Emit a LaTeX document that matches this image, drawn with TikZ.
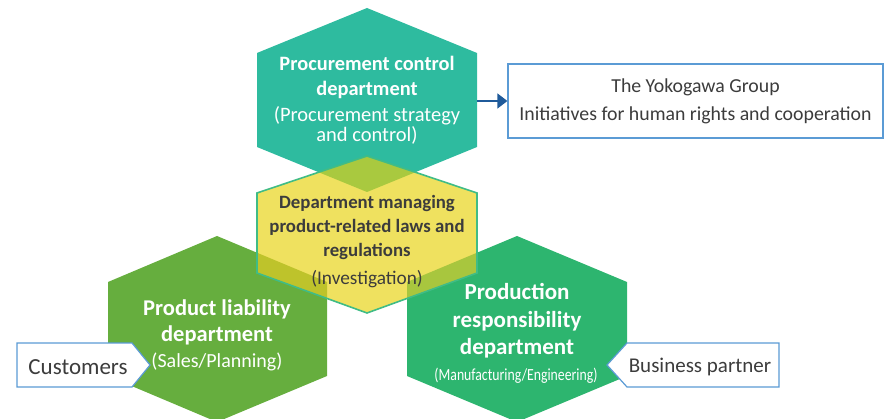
\documentclass[tikz,border=0pt]{standalone}
\usepackage{fontspec}
\setmainfont{Carlito}
\newfontfamily\condfont[FakeStretch=0.81]{Carlito}
\usetikzlibrary{arrows.meta}
\definecolor{tealhex}{HTML}{2EBB9F}
\definecolor{lgreen}{HTML}{66AE3E}
\definecolor{rgreen}{HTML}{2DB56F}
\definecolor{yhex}{HTML}{EFE15F}
\definecolor{yborder}{HTML}{40BC86}
\definecolor{limeov}{HTML}{A9C93F}
\definecolor{oliveov}{HTML}{BEC32B}
\definecolor{rov}{HTML}{A8C63E}
\definecolor{boxblue}{HTML}{5B9BD5}
\definecolor{arrblue}{HTML}{1F5A9A}
\definecolor{darktxt}{HTML}{3C3C3C}
\tikzset{
  wtitle/.style={align=center, text=white, font=\bfseries\fontsize{20.4}{25}\selectfont},
  wsub/.style={align=center, text=white, font=\fontsize{20.5}{20}\selectfont},
  labelbox/.style={draw=boxblue, line width=1.2pt, fill=white},
  boxtext/.style={text=darktxt, font=\fontsize{20.5}{27}\selectfont, align=center}
}
\begin{document}
\begin{tikzpicture}[x=1pt,y=-1pt]
\useasboundingbox (0,0) rectangle (890,419);
% hexagon shapes
\def\tophex{(367,8) -- (477,53) -- (477,147) -- (367,192) -- (257,147) -- (257,53) -- cycle}
\def\yelhex{(367,156) -- (477,193) -- (477,273) -- (367,313) -- (257,273) -- (257,193) -- cycle}
\def\lefthex{(217,236) -- (327,282) -- (327,376) -- (217,422) -- (108,376) -- (108,282) -- cycle}
\def\righthex{(517,236) -- (627,282) -- (627,376) -- (517,422) -- (407,376) -- (407,282) -- cycle}
\fill[tealhex] \tophex;
\fill[lgreen] \lefthex;
\fill[rgreen] \righthex;
\fill[yhex] \yelhex;
\begin{scope}
  \clip \yelhex;
  \fill[limeov] \tophex;
  \fill[oliveov] \lefthex;
  \fill[rov] \righthex;
\end{scope}
\draw[yborder, line width=1.6pt, line join=miter] \yelhex;
% side label boxes
\draw[labelbox] (17,343) -- (132,343) -- (150,365) -- (132,387) -- (17,387) -- cycle;
\draw[labelbox] (779,343) -- (627,343) -- (607,365) -- (627,387) -- (779,387) -- cycle;
% texts
\node[wtitle] (ptitle) at (367,77.5) {Procurement control\\department};
\node[wsub] (psub) at (367,125.5) {(Procurement strategy\\and control)};
\node[align=center, text=darktxt, font=\bfseries\fontsize{18.8}{24}\selectfont] (ytitle) at (367,227.5) {Department managing\\product-related laws and\\regulations};
\node[align=center, text=darktxt, font=\fontsize{19.3}{20}\selectfont] (ysub) at (367,279) {(Investigation)};
\node[wtitle, font=\bfseries\fontsize{22.5}{25.5}\selectfont] (ltitle) at (217,322.5) {Product liability\\department};
\node[wsub, font=\fontsize{20}{20}\selectfont] (lsub) at (217,362) {(Sales/Planning)};
\node[wtitle, font=\bfseries\fontsize{23}{27.5}\selectfont] (rtitle) at (517,321) {Production\\responsibility\\department};
\node[wsub, font=\condfont\fontsize{17}{20}\selectfont] (rsub) at (516,376) {(Manufacturing/Engineering)};
\node[boxtext, font=\fontsize{23}{27}\selectfont] (cust) at (78,367) {Customers};
\node[boxtext, font=\fontsize{21}{27}\selectfont] (bp) at (700,367) {Business partner};
\node[labelbox, boxtext, font=\fontsize{19.8}{28}\selectfont, minimum width=375pt, minimum height=74pt, inner sep=0pt] (yoko) at (695.5,101) {The Yokogawa Group\\Initiatives for human rights and cooperation};
\coordinate (hexR) at (477,101);
\draw[arrblue, line width=1.3pt, -{Triangle[length=10pt,width=15pt]}] (hexR) -- (yoko.west |- hexR);
\end{tikzpicture}
\end{document}
